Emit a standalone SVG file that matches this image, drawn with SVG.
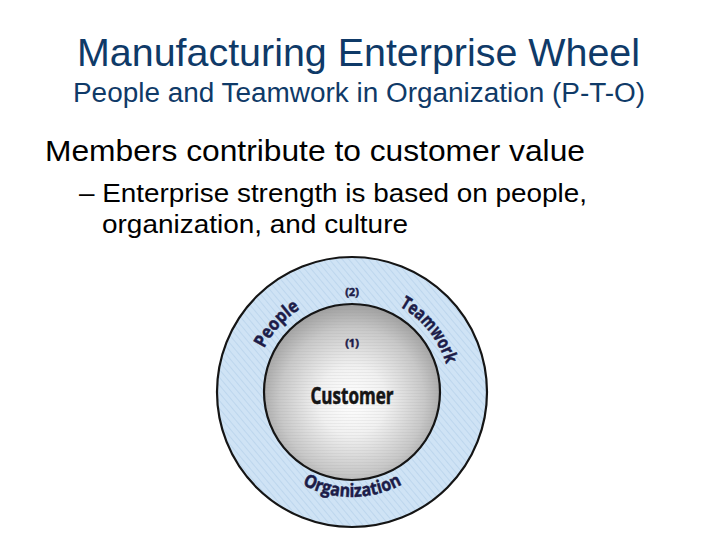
<svg xmlns="http://www.w3.org/2000/svg" width="720" height="540" viewBox="0 0 720 540">
  <defs>
    <style>
      .title { font-family: "Liberation Sans", Arial, sans-serif; fill: #0f3a68; }
      .body { font-family: "Liberation Sans", Arial, sans-serif; fill: #000; }
      .lbl { font-family: "Open Sans", "Liberation Sans", sans-serif; font-weight: bold; fill: #1c1c48; stroke: #1c1c48; stroke-width: 0.5; }
      .ring { stroke: #151515; stroke-width: 2.2; }
    </style>
    <pattern id="diag" width="5" height="5" patternUnits="userSpaceOnUse" patternTransform="rotate(-40)">
      <rect width="5" height="5" fill="#cfe3f5"/>
      <line x1="0" y1="0" x2="0" y2="5" stroke="#b9d3ec" stroke-width="1.6"/>
    </pattern>
    <radialGradient id="ball" cx="50%" cy="55%" r="55%">
      <stop offset="0" stop-color="#ffffff"/>
      <stop offset="0.35" stop-color="#f1f1f1"/>
      <stop offset="0.75" stop-color="#c8c8c8"/>
      <stop offset="1" stop-color="#9e9e9e"/>
    </radialGradient>
    <pattern id="hlines" width="6" height="3" patternUnits="userSpaceOnUse">
      <line x1="0" y1="0.5" x2="6" y2="0.5" stroke="#8a8a8a" stroke-width="0.6" stroke-opacity="0.18"/>
    </pattern>
    <path id="arcTop" d="M 254,392 A 98 98 0 0 1 450,392"/>
    <path id="arcBot" d="M 247,392 A 105 105 0 0 0 457,392"/>
  </defs>
  <rect width="720" height="540" fill="#ffffff"/>

  <g id="title">
    <text class="title" x="77" y="66" font-size="39" textLength="563" lengthAdjust="spacingAndGlyphs">Manufacturing Enterprise Wheel</text>
    <text class="title" x="73" y="102" font-size="27" textLength="572" lengthAdjust="spacingAndGlyphs">People and Teamwork in Organization (P-T-O)</text>
  </g>

  <g id="bullets">
    <text class="body" x="45" y="161" font-size="29" textLength="540" lengthAdjust="spacingAndGlyphs">Members contribute to customer value</text>
    <text class="body" x="79" y="202" font-size="25" textLength="508" lengthAdjust="spacingAndGlyphs">– Enterprise strength is based on people,</text>
    <text class="body" x="102" y="233" font-size="25" textLength="306" lengthAdjust="spacingAndGlyphs">organization, and culture</text>
  </g>

  <g id="outer-ring">
    <circle cx="352" cy="392" r="135" fill="url(#diag)" class="ring"/>
    <text class="lbl" font-size="18"><textPath href="#arcTop" startOffset="72" text-anchor="middle" textLength="54" lengthAdjust="spacingAndGlyphs">People</textPath></text>
    <text class="lbl" font-size="18"><textPath href="#arcTop" startOffset="241" text-anchor="middle" textLength="76" lengthAdjust="spacingAndGlyphs">Teamwork</textPath></text>
    <text class="lbl" font-size="18"><textPath href="#arcBot" startOffset="165" text-anchor="middle" textLength="104" lengthAdjust="spacingAndGlyphs">Organization</textPath></text>
    <text class="lbl" x="352" y="296" font-size="11" text-anchor="middle">(2)</text>
  </g>

  <g id="customer">
    <circle cx="352" cy="392" r="88" fill="url(#ball)"/>
    <circle cx="352" cy="392" r="88" fill="url(#hlines)" class="ring"/>
    <text class="lbl" x="352" y="347" font-size="11" text-anchor="middle">(1)</text>
    <text x="352" y="404" font-family="'Open Sans', 'Liberation Sans', sans-serif" font-weight="bold" font-size="23" fill="#151515" stroke="#151515" stroke-width="0.6" text-anchor="middle" textLength="83" lengthAdjust="spacingAndGlyphs">Customer</text>
  </g>
</svg>
